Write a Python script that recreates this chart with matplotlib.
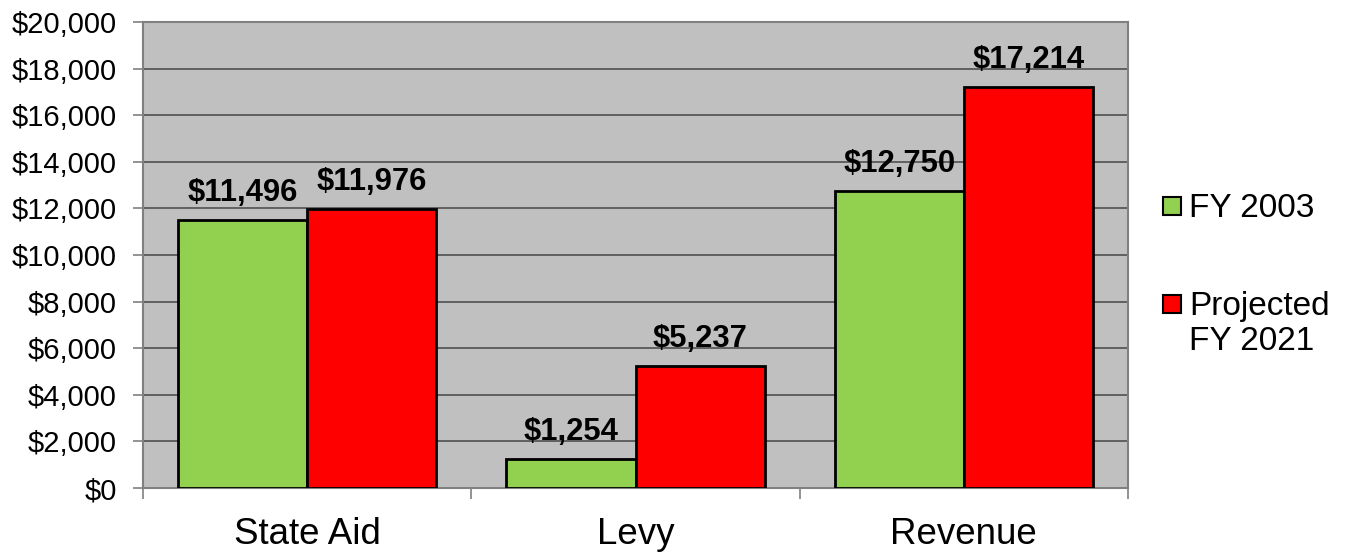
import numpy as np
import matplotlib.pyplot as plt
from matplotlib.patches import Rectangle

plt.rcParams['font.family'] = ['Liberation Sans', 'DejaVu Sans']

categories = ['State Aid', 'Levy', 'Revenue']
fy2003 = [11496, 1254, 12750]
fy2021 = [11976, 5237, 17214]
series_names = ['FY 2003', 'Projected\nFY 2021']
series_colors = ['#92D050', '#FF0000']
yticks = np.arange(0, 20001, 2000)

fig = plt.figure(figsize=(13.47, 5.52), dpi=100)
ax = fig.add_axes([0.1062, 0.1159, 0.7312, 0.8442])
ax.set_facecolor('#C0C0C0')

x = np.arange(len(categories))
w = 0.393
b1 = ax.bar(x - w / 2, fy2003, w, color=series_colors[0], edgecolor='black', linewidth=2, zorder=3)
b2 = ax.bar(x + w / 2, fy2021, w, color=series_colors[1], edgecolor='black', linewidth=2, zorder=3)

for bars in (b1, b2):
    for rect in bars:
        h = rect.get_height()
        ax.annotate(f'${h:,.0f}', (rect.get_x() + rect.get_width() / 2, h),
                    xytext=(0, 13.5), textcoords='offset points',
                    ha='center', va='baseline', fontsize=22.3, fontweight='bold')

ax.set_ylim(0, 20000)
ax.set_yticks(yticks)
ax.set_yticklabels([f'${v:,.0f}' for v in yticks])
ax.yaxis.grid(True, color='#505050', linewidth=1.2, zorder=0)
ax.set_axisbelow(True)

ax.set_xlim(-0.5, 2.5)
ax.set_xticks([-0.5, 0.5, 1.5, 2.5])
ax.set_xticklabels([])
ax.set_xticks(x, minor=True)
ax.set_xticklabels(categories, minor=True, fontsize=26.5)
ax.tick_params(axis='x', which='minor', length=0, pad=21)
ax.tick_params(axis='x', which='major', length=8, color='#808080', width=1.2)
ax.tick_params(axis='y', length=7, color='#808080', width=1.2, labelsize=21, pad=12)

for s in ax.spines.values():
    s.set_color('#808080')
    s.set_linewidth(1.5)

# legend drawn by hand so the swatch sits on the first line of the label
def px(xp, yp):
    return xp / 1347, 1 - yp / 552

leg_y = [206, 304]
for name, col, yc in zip(series_names, series_colors, leg_y):
    x0, y0 = px(1163, yc + 9)
    fig.patches.append(Rectangle((x0, y0), 18 / 1347, 18 / 552, transform=fig.transFigure,
                                 facecolor=col, edgecolor='black', linewidth=1.5))
    tx, ty = px(1189, yc - 13)
    fig.text(tx, ty, name, fontsize=24, ha='left', va='top', linespacing=1.15)

fig.savefig('out.png', dpi=100)
